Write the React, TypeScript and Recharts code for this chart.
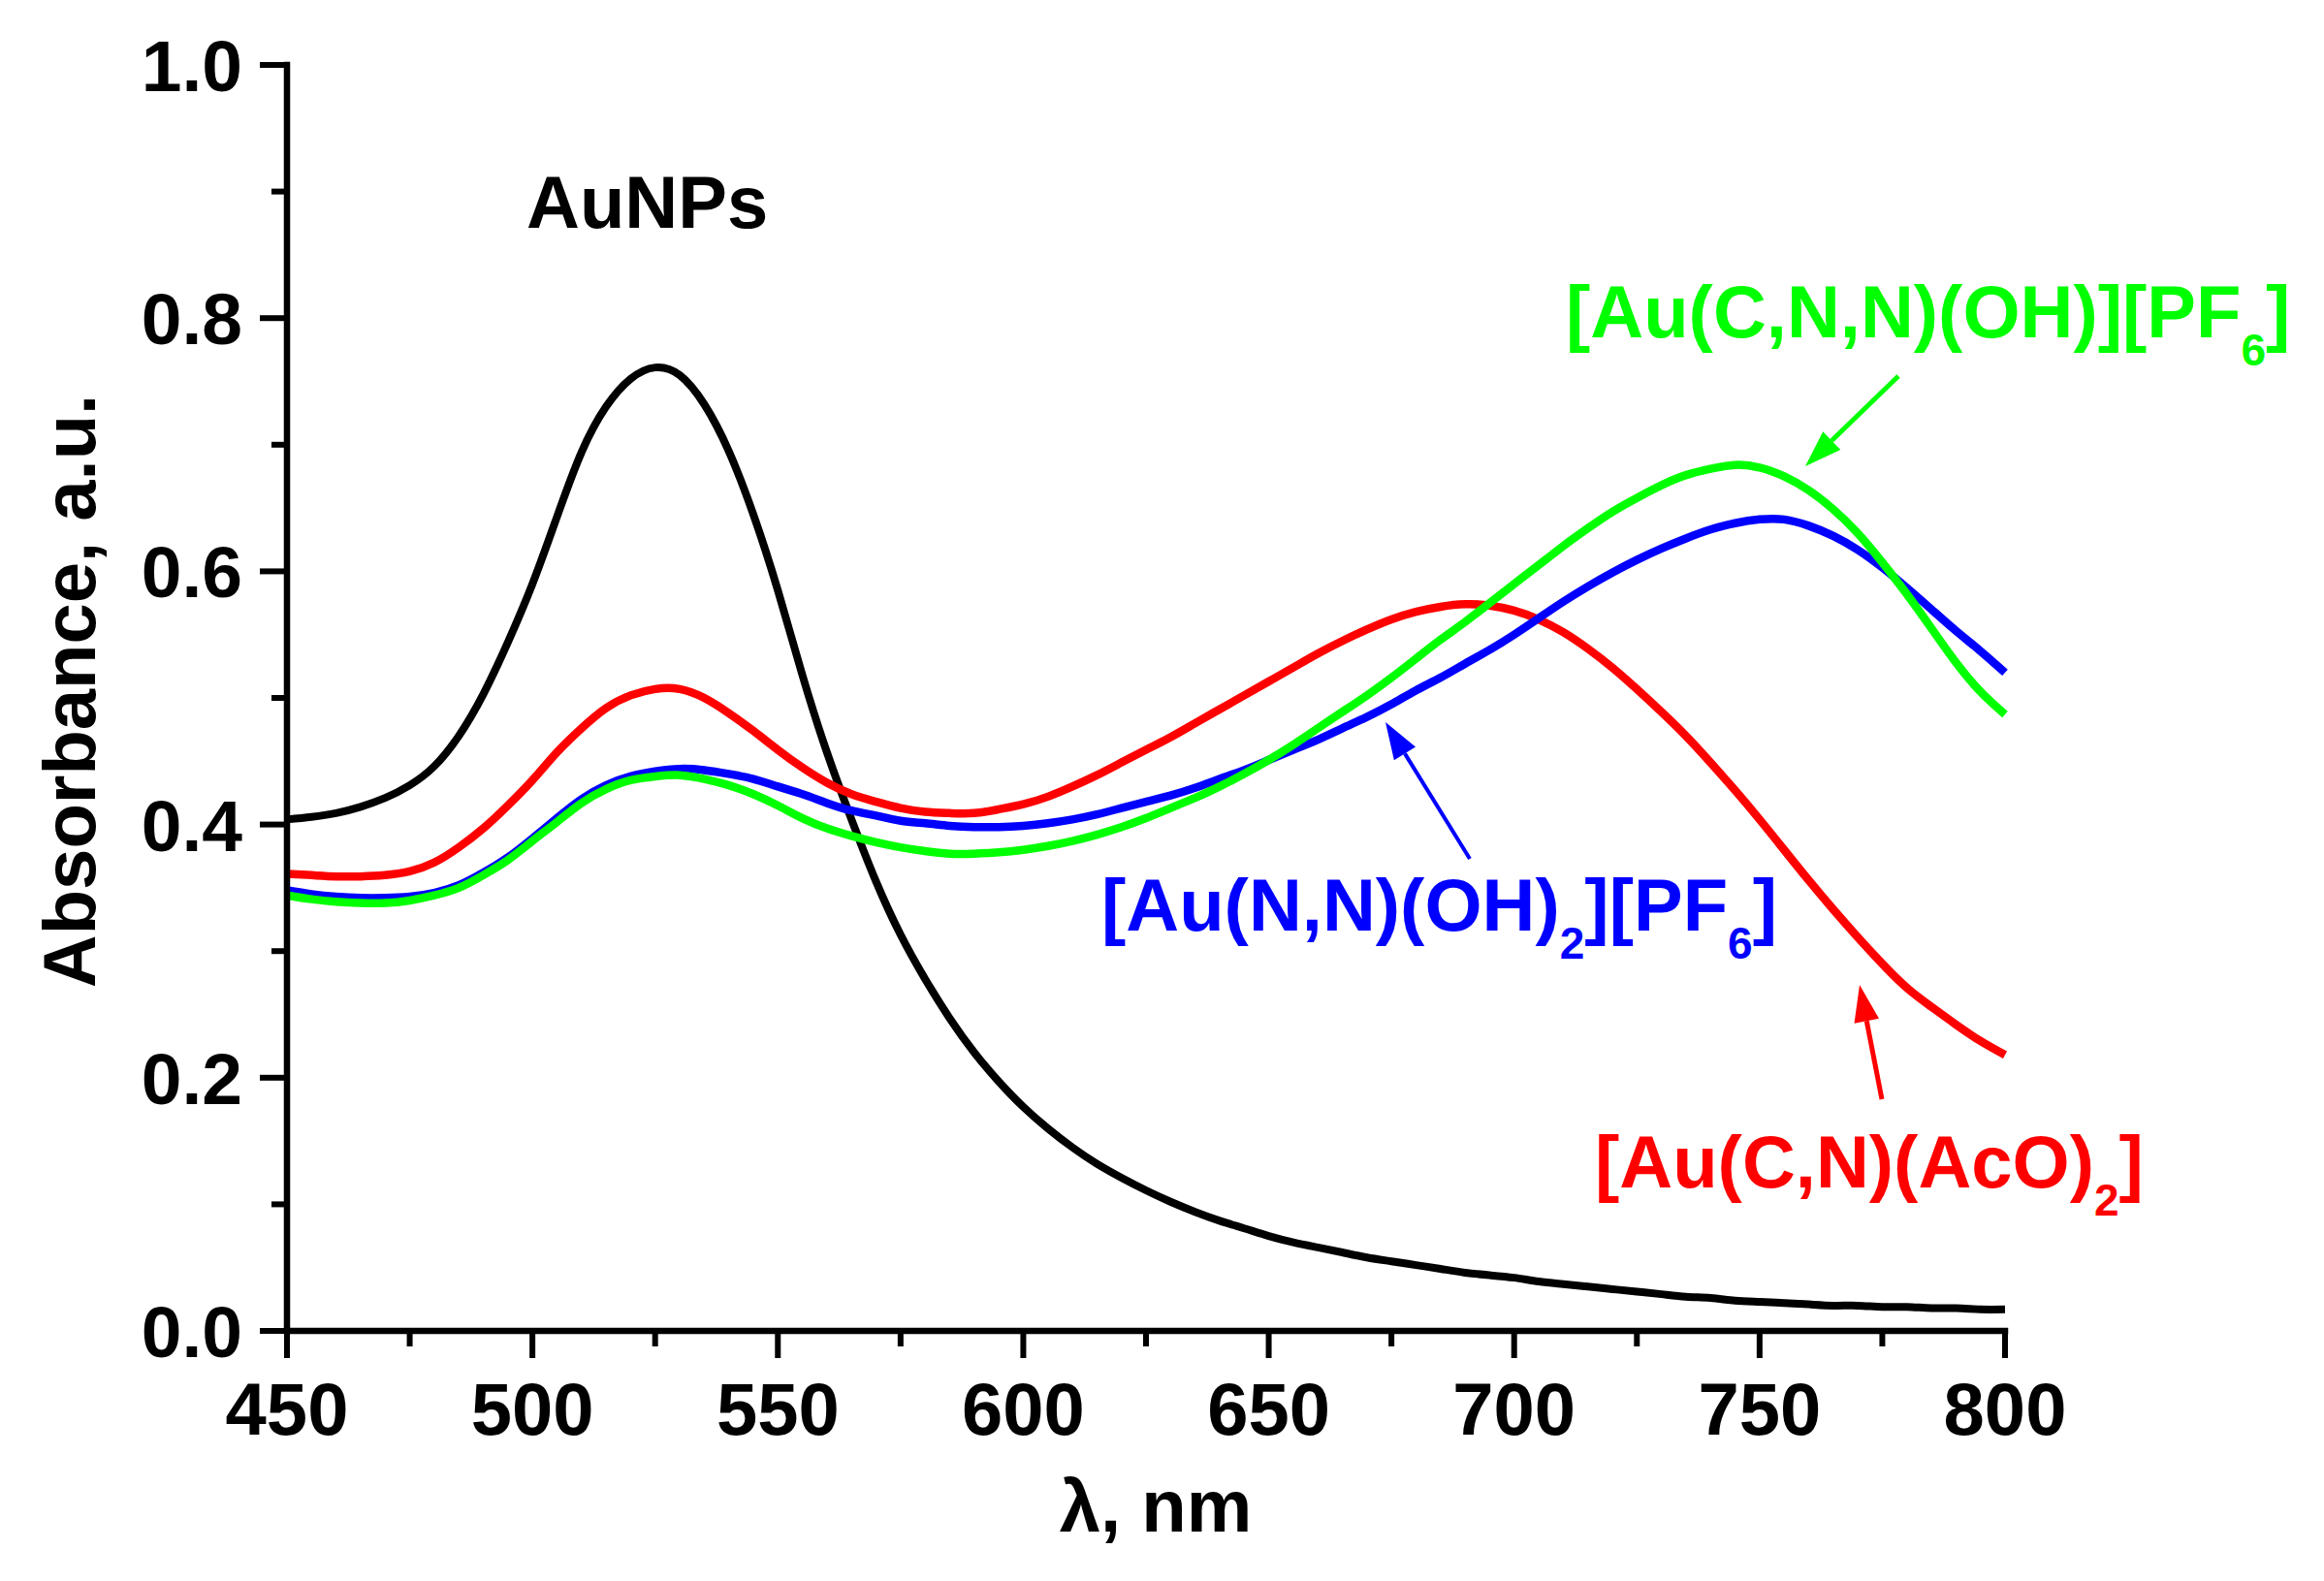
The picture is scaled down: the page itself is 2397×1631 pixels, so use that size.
import React from "react";
import { LineChart, Line, XAxis, YAxis } from "recharts";

// wavelength grid, nm
const wavelengths = [
  450, 455, 460, 465, 470, 475, 480, 485, 490, 495, 500, 505, 510, 515, 520, 525,
  530, 535, 540, 545, 550, 555, 560, 565, 570, 575, 580, 585, 590, 595, 600, 605,
  610, 615, 620, 625, 630, 635, 640, 645, 650, 655, 660, 665, 670, 675, 680, 685,
  690, 695, 700, 705, 710, 715, 720, 725, 730, 735, 740, 745, 750, 755, 760, 765,
  770, 775, 780, 785, 790, 795, 800,
];

const auNPs = [
  0.404, 0.406, 0.409, 0.414, 0.421, 0.431, 0.446, 0.470, 0.503, 0.544, 0.590, 0.643, 0.694, 0.730, 0.752, 0.761,
  0.755, 0.732, 0.695, 0.645, 0.585, 0.518, 0.457, 0.404, 0.355, 0.313, 0.278, 0.247, 0.220, 0.197, 0.177, 0.160,
  0.145, 0.132, 0.121, 0.111, 0.102, 0.094, 0.087, 0.081, 0.075, 0.070, 0.066, 0.062, 0.058, 0.055, 0.052, 0.049,
  0.046, 0.044, 0.042, 0.039, 0.037, 0.035, 0.033, 0.031, 0.029, 0.027, 0.026, 0.024, 0.023, 0.022, 0.021, 0.020,
  0.020, 0.019, 0.019, 0.018, 0.018, 0.017, 0.017,
];

const auCN = [
  0.361, 0.360, 0.359, 0.359, 0.360, 0.363, 0.370, 0.382, 0.397, 0.415, 0.435, 0.457, 0.476, 0.492, 0.502, 0.507,
  0.507, 0.500, 0.488, 0.474, 0.459, 0.445, 0.433, 0.424, 0.418, 0.413, 0.410, 0.409, 0.409, 0.412, 0.416, 0.422,
  0.430, 0.439, 0.449, 0.459, 0.469, 0.480, 0.491, 0.502, 0.513, 0.524, 0.535, 0.545, 0.554, 0.562, 0.568, 0.572,
  0.574, 0.573, 0.569, 0.562, 0.552, 0.539, 0.524, 0.507, 0.489, 0.470, 0.449, 0.427, 0.404, 0.380, 0.356, 0.333,
  0.311, 0.290, 0.271, 0.256, 0.242, 0.229, 0.218,
];

const auNN = [
  0.348, 0.345, 0.343, 0.342, 0.342, 0.343, 0.346, 0.352, 0.362, 0.374, 0.389, 0.405, 0.420, 0.431, 0.438, 0.442,
  0.444, 0.443, 0.440, 0.436, 0.430, 0.424, 0.417, 0.411, 0.407, 0.403, 0.401, 0.399, 0.398, 0.398, 0.399, 0.401,
  0.404, 0.408, 0.413, 0.418, 0.423, 0.429, 0.436, 0.443, 0.451, 0.459, 0.467, 0.476, 0.485, 0.495, 0.506, 0.516,
  0.527, 0.538, 0.550, 0.563, 0.576, 0.588, 0.599, 0.609, 0.618, 0.626, 0.633, 0.638, 0.641, 0.641, 0.636, 0.628,
  0.617, 0.603, 0.587, 0.570, 0.553, 0.537, 0.520,
];

const auCNN = [
  0.344, 0.341, 0.339, 0.338, 0.338, 0.340, 0.344, 0.350, 0.360, 0.372, 0.387, 0.402, 0.417, 0.428, 0.435, 0.438,
  0.439, 0.436, 0.431, 0.424, 0.415, 0.405, 0.397, 0.391, 0.386, 0.382, 0.379, 0.377, 0.377, 0.378, 0.380, 0.383,
  0.387, 0.392, 0.398, 0.405, 0.413, 0.421, 0.430, 0.440, 0.451, 0.463, 0.476, 0.489, 0.502, 0.516, 0.531, 0.546,
  0.560, 0.575, 0.590, 0.605, 0.620, 0.634, 0.647, 0.658, 0.668, 0.676, 0.681, 0.684, 0.682, 0.675, 0.664, 0.649,
  0.630, 0.607, 0.582, 0.555, 0.528, 0.505, 0.487,
];

const xTicks = [450, 475, 500, 525, 550, 575, 600, 625, 650, 675, 700, 725, 750, 775, 800];
const yTicks = [0, 0.1, 0.2, 0.3, 0.4, 0.5, 0.6, 0.7, 0.8, 0.9, 1.0];

const data = wavelengths.map((wl, i) => ({
  wl,
  auNPs: auNPs[i],
  auCN: auCN[i],
  auNN: auNN[i],
  auCNN: auCNN[i],
}));

const FONT = "'Liberation Sans', Arial, sans-serif";
const W = 2397;
const H = 1631;

const YTick = (props: any) => {
  const { x, y, payload } = props;
  const v = payload.value as number;
  const major = Math.round(v * 10) % 2 === 0;
  const len = major ? 28 : 16;
  return (
    <g>
      <line x1={x} x2={x - len} y1={y} y2={y} stroke="#000" strokeWidth={6} />
      {major && (
        <text x={x - 46} y={y + 27} textAnchor="end" fontFamily={FONT} fontWeight={700} fontSize={75} fill="#000">
          {v.toFixed(1)}
        </text>
      )}
    </g>
  );
};

const XTick = (props: any) => {
  const { x, y, payload } = props;
  const v = payload.value as number;
  const major = v % 50 === 0;
  const len = major ? 28 : 16;
  return (
    <g>
      <line x1={x} x2={x} y1={y} y2={y + len} stroke="#000" strokeWidth={6} />
      {major && (
        <text x={x} y={y + 107} textAnchor="middle" fontFamily={FONT} fontWeight={700} fontSize={76} fill="#000">
          {v}
        </text>
      )}
    </g>
  );
};

const Arrow = ({ x1, y1, x2, y2, color, width = 4 }: any) => {
  const dx = x2 - x1;
  const dy = y2 - y1;
  const len = Math.sqrt(dx * dx + dy * dy);
  const ux = dx / len;
  const uy = dy / len;
  const head = 38;
  const half = 13;
  const bx = x2 - ux * head;
  const by = y2 - uy * head;
  const pts = `${x2},${y2} ${bx - uy * half},${by + ux * half} ${bx + uy * half},${by - ux * half}`;
  return (
    <g>
      <line x1={x1} y1={y1} x2={bx} y2={by} stroke={color} strokeWidth={width} />
      <polygon points={pts} fill={color} />
    </g>
  );
};

const txt = { fontFamily: FONT, fontWeight: 700, fontSize: 76 } as const;

export default function App() {
  return (
    <div style={{ position: "absolute", left: 0, top: 0, width: W, height: H, background: "#fff" }}>
      <LineChart
        width={W}
        height={H}
        data={data}
        margin={{ top: 67, right: 329, bottom: 198, left: 216 }}
      >
        <XAxis
          dataKey="wl"
          type="number"
          domain={[450, 800]}
          ticks={xTicks}
          interval={0}
          height={60}
          tickSize={0}
          tickMargin={0}
          tickLine={false}
          tick={<XTick />}
          axisLine={{ stroke: "#000", strokeWidth: 6.5, strokeLinecap: "square" }}
        />
        <YAxis
          type="number"
          domain={[0, 1]}
          ticks={yTicks}
          interval={0}
          width={80}
          tickSize={0}
          tickMargin={0}
          tickLine={false}
          tick={<YTick />}
          axisLine={{ stroke: "#000", strokeWidth: 6.5, strokeLinecap: "square" }}
        />
        <Line type="natural" dataKey="auNPs" stroke="#000000" strokeWidth={8} dot={false} isAnimationActive={false} />
        <Line type="natural" dataKey="auCN" stroke="#ff0000" strokeWidth={8.5} dot={false} isAnimationActive={false} />
        <Line type="natural" dataKey="auNN" stroke="#0000ff" strokeWidth={8.5} dot={false} isAnimationActive={false} />
        <Line type="natural" dataKey="auCNN" stroke="#00ff00" strokeWidth={8.5} dot={false} isAnimationActive={false} />
      </LineChart>

      <svg
        width={W}
        height={H}
        style={{ position: "absolute", left: 0, top: 0, pointerEvents: "none" }}
      >
        {/* axis titles */}
        <text x={1192} y={1580} textAnchor="middle" {...txt} fill="#000">
          λ, nm
        </text>
        <text x={98} y={713} textAnchor="middle" transform="rotate(-90 98 713)" {...txt} fill="#000">
          Absorbance, a.u.
        </text>

        {/* curve labels */}
        <text x={543} y={235} {...txt} fill="#000">
          AuNPs
        </text>
        <text x={1615} y={348} {...txt} fill="#00ff00">
          [Au(C,N,N)(OH)][PF
          <tspan dy={29} fontSize={46}>6</tspan>
          <tspan dy={-29}>]</tspan>
        </text>
        <text x={1136} y={960} {...txt} fill="#0000ff">
          [Au(N,N)(OH)
          <tspan dy={29} fontSize={46}>2</tspan>
          <tspan dy={-29}>][PF</tspan>
          <tspan dy={29} fontSize={46}>6</tspan>
          <tspan dy={-29}>]</tspan>
        </text>
        <text x={1645} y={1225} {...txt} fill="#ff0000">
          [Au(C,N)(AcO)
          <tspan dy={29} fontSize={46}>2</tspan>
          <tspan dy={-29}>]</tspan>
        </text>

        <Arrow x1={1958} y1={388} x2={1862} y2={481} color="#00ff00" width={5} />
        <Arrow x1={1516} y1={886} x2={1429} y2={745} color="#0000ff" width={4} />
        <Arrow x1={1941} y1={1134} x2={1918} y2={1016} color="#ff0000" width={5} />
      </svg>
    </div>
  );
}
